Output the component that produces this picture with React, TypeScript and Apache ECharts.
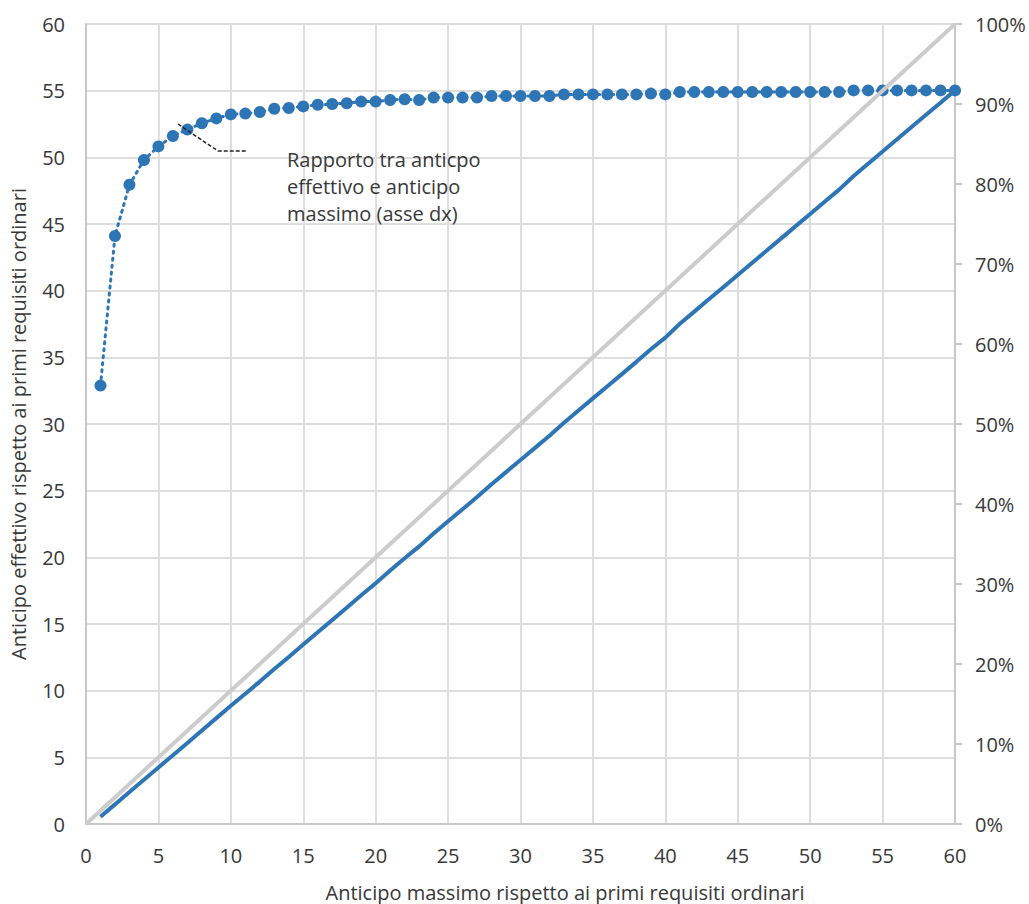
import React, { useEffect, useRef } from "react";
import * as echarts from "echarts";

const X_VALUES = [
  1, 2, 3, 4, 5, 6, 7, 8, 9, 10, 11, 12, 13, 14, 15, 16, 17, 18, 19, 20,
  21, 22, 23, 24, 25, 26, 27, 28, 29, 30, 31, 32, 33, 34, 35, 36, 37, 38, 39, 40,
  41, 42, 43, 44, 45, 46, 47, 48, 49, 50, 51, 52, 53, 54, 55, 56, 57, 58, 59, 60,
];

// Ratio between effective and maximum advance (right axis, %)
const RATIO = [
  54.8, 73.5, 79.9, 83.0, 84.7, 86.0, 86.8, 87.6, 88.2, 88.7,
  88.8, 89.0, 89.4, 89.5, 89.7, 89.9, 90.0, 90.1, 90.3, 90.3,
  90.5, 90.6, 90.5, 90.8, 90.8, 90.8, 90.8, 91.0, 91.0, 91.0,
  91.0, 91.0, 91.2, 91.2, 91.2, 91.2, 91.2, 91.2, 91.3, 91.2,
  91.5, 91.5, 91.5, 91.5, 91.5, 91.5, 91.5, 91.5, 91.5, 91.5,
  91.5, 91.5, 91.7, 91.7, 91.7, 91.7, 91.7, 91.7, 91.7, 91.7,
];

// Effective advance (left axis)
const EFFECTIVE = [
  0.55, 1.47, 2.4, 3.32, 4.24, 5.16, 6.08, 7.01, 7.94, 8.87,
  9.77, 10.68, 11.62, 12.53, 13.46, 14.38, 15.3, 16.22, 17.16, 18.06,
  19.01, 19.93, 20.82, 21.79, 22.7, 23.61, 24.52, 25.48, 26.39, 27.3,
  28.21, 29.12, 30.1, 31.01, 31.92, 32.83, 33.74, 34.66, 35.61, 36.48,
  37.52, 38.43, 39.35, 40.26, 41.18, 42.09, 43.01, 43.92, 44.84, 45.75,
  46.67, 47.58, 48.6, 49.52, 50.44, 51.35, 52.27, 53.19, 54.1, 55.02,
];

// Bisector (reference line)
const DIAG_X = [0, 60];
const DIAG_Y = [0, 60];

const X_TITLE = "Anticipo massimo rispetto ai primi requisiti ordinari";
const Y_TITLE = "Anticipo effettivo rispetto ai primi requisiti ordinari";
const NOTE_LINES = ["Rapporto tra anticpo", "effettivo e anticipo", "massimo (asse dx)"];

const FONT = "'Open Sans', sans-serif";
const TEXT_COLOR = "#383838";
const BLUE = "#2e75b6";

export default function App() {
  const ref = useRef<HTMLDivElement>(null);

  useEffect(() => {
    document.body.style.margin = "0";
    if (!ref.current) return;
    const chart = echarts.init(ref.current, null, { renderer: "svg" });
    const labelStyle = { color: TEXT_COLOR, fontSize: 20, fontFamily: FONT };
    chart.setOption({
      animation: false,
      backgroundColor: "#ffffff",
      grid: { left: 86, right: 74, top: 24, bottom: 80, containLabel: false },
      xAxis: {
        type: "value",
        min: 0,
        max: 60,
        interval: 5,
        axisLine: { show: true, lineStyle: { color: "#c8c8c8", width: 2 } },
        axisTick: { show: false },
        axisLabel: { ...labelStyle, margin: 21 },
        splitLine: { show: true, lineStyle: { color: "#dedede", width: 2 } },
      },
      yAxis: [
        {
          type: "value",
          min: 0,
          max: 60,
          interval: 5,
          position: "left",
          name: Y_TITLE,
          nameLocation: "middle",
          nameGap: 58,
          nameRotate: 90,
          nameTextStyle: { color: TEXT_COLOR, fontSize: 20, fontFamily: FONT },
          axisLine: { show: true, lineStyle: { color: "#c8c8c8", width: 2 } },
          axisTick: { show: false },
          axisLabel: { ...labelStyle, margin: 21 },
          splitLine: { show: true, lineStyle: { color: "#dedede", width: 2 } },
        },
        {
          type: "value",
          min: 0,
          max: 100,
          interval: 10,
          position: "right",
          axisLine: { show: true, lineStyle: { color: "#c8c8c8", width: 2 } },
          axisTick: { show: true, inside: false, length: 7, lineStyle: { color: "#c8c8c8", width: 2 } },
          axisLabel: { ...labelStyle, margin: 20, formatter: "{value}%" },
          splitLine: { show: false },
        },
      ],
      series: [
        {
          name: "Rapporto",
          type: "line",
          yAxisIndex: 1,
          data: X_VALUES.map((x, i) => [x, RATIO[i]]),
          symbol: "circle",
          symbolSize: 12,
          itemStyle: { color: BLUE },
          lineStyle: { color: BLUE, width: 3, type: [2, 5], cap: "round" },
          z: 3,
        },
        {
          name: "Bisettrice",
          type: "line",
          yAxisIndex: 0,
          data: DIAG_X.map((x, i) => [x, DIAG_Y[i]]),
          symbol: "none",
          lineStyle: { color: "#cccccc", width: 4 },
          z: 4,
        },
        {
          name: "Anticipo effettivo",
          type: "line",
          yAxisIndex: 0,
          data: X_VALUES.map((x, i) => [x, EFFECTIVE[i]]),
          symbol: "none",
          lineStyle: { color: BLUE, width: 4 },
          z: 5,
        },
      ],
      graphic: [
        {
          type: "text",
          x: 565,
          y: 892,
          style: {
            text: X_TITLE,
            fill: TEXT_COLOR,
            font: `20px ${FONT}`,
            textAlign: "center",
            textVerticalAlign: "middle",
          },
        },
        {
          type: "polyline",
          shape: { points: [[178, 124], [218, 151], [247, 151]] },
          style: { stroke: "#222", lineWidth: 1.5, lineDash: [4, 2], fill: null },
          z: 10,
        },
        {
          type: "text",
          x: 287,
          y: 146,
          style: {
            text: NOTE_LINES.join("\n"),
            fill: TEXT_COLOR,
            font: `20px ${FONT}`,
            lineHeight: 27,
          },
          z: 10,
        },
      ],
    });
    return () => chart.dispose();
  }, []);

  return <div ref={ref} style={{ width: 1029, height: 904 }} />;
}
